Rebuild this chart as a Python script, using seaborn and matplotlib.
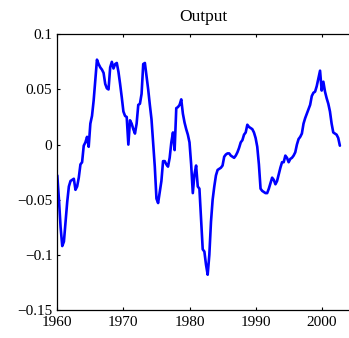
import numpy as np
import pandas as pd
import matplotlib
matplotlib.use("Agg")
import matplotlib.pyplot as plt
import seaborn as sns

# Quarterly output gap, 1960Q1 - 2002Q4
start_year = 1960
output_gap = [
    -0.028, -0.050, -0.075, -0.092,   # 1960
    -0.088, -0.070, -0.052, -0.038,   # 1961
    -0.033, -0.032, -0.031, -0.041,   # 1962
    -0.038, -0.030, -0.018, -0.016,   # 1963
    -0.001, 0.002, 0.007, -0.002,     # 1964
    0.019, 0.026, 0.040, 0.058,       # 1965
    0.077, 0.073, 0.070, 0.068,       # 1966
    0.065, 0.055, 0.051, 0.050,       # 1967
    0.070, 0.075, 0.069, 0.073,       # 1968
    0.074, 0.066, 0.055, 0.043,       # 1969
    0.030, 0.026, 0.025, 0.000,       # 1970
    0.022, 0.019, 0.014, 0.010,       # 1971
    0.019, 0.036, 0.037, 0.046,       # 1972
    0.073, 0.074, 0.062, 0.050,       # 1973
    0.036, 0.023, 0.002, -0.020,      # 1974
    -0.049, -0.053, -0.043, -0.033,   # 1975
    -0.015, -0.015, -0.018, -0.020,   # 1976
    -0.012, 0.002, 0.011, -0.005,     # 1977
    0.033, 0.034, 0.036, 0.041,       # 1978
    0.028, 0.020, 0.014, 0.009,       # 1979
    0.002, -0.018, -0.044, -0.027,    # 1980
    -0.019, -0.038, -0.040, -0.068,   # 1981
    -0.095, -0.097, -0.109, -0.118,   # 1982
    -0.100, -0.070, -0.050, -0.038,   # 1983
    -0.028, -0.023, -0.022, -0.021,   # 1984
    -0.019, -0.011, -0.009, -0.008,   # 1985
    -0.008, -0.010, -0.011, -0.012,   # 1986
    -0.010, -0.007, -0.003, 0.002,    # 1987
    0.004, 0.009, 0.011, 0.018,       # 1988
    0.016, 0.015, 0.014, 0.011,       # 1989
    0.006, -0.002, -0.018, -0.040,    # 1990
    -0.042, -0.043, -0.044, -0.044,   # 1991
    -0.040, -0.035, -0.030, -0.032,   # 1992
    -0.036, -0.033, -0.027, -0.021,   # 1993
    -0.016, -0.016, -0.010, -0.012,   # 1994
    -0.016, -0.013, -0.012, -0.010,   # 1995
    -0.007, 0.000, 0.005, 0.007,      # 1996
    0.010, 0.019, 0.024, 0.028,       # 1997
    0.032, 0.036, 0.044, 0.047,       # 1998
    0.048, 0.053, 0.060, 0.067,       # 1999
    0.049, 0.057, 0.048, 0.042,       # 2000
    0.037, 0.030, 0.019, 0.011,       # 2001
    0.010, 0.009, 0.006, -0.001,      # 2002
]

y_ticks = [-0.15, -0.1, -0.05, 0, 0.05, 0.1]
y_tick_labels = ["\u22120.15", "\u22120.1", "\u22120.05", "0", "0.05", "0.1"]
x_ticks = [1960, 1970, 1980, 1990, 2000]
x_tick_labels = ["1960", "1970", "1980", "1990", "2000"]

dates = start_year + np.arange(len(output_gap)) / 4.0
df = pd.DataFrame({"date": dates, "gap": output_gap})

sns.set_theme(style="ticks")
plt.rcParams["font.family"] = ["Liberation Serif", "DejaVu Serif"]
plt.rcParams["axes.unicode_minus"] = True

fig = plt.figure(figsize=(3.49, 3.38), dpi=100)
ax = fig.add_axes([57.3 / 349, 1 - 310 / 338, 1 - 57.3 / 349, (310 - 34.3) / 338])

sns.lineplot(data=df, x="date", y="gap", ax=ax, color="#0000ff",
             linewidth=1.9, estimator=None, sort=False)

ax.set_xlim(1960, 1960 + (349 - 57.3) / 6.61)
ax.set_ylim(-0.15, 0.1)
ax.set_xticks(x_ticks)
ax.set_xticklabels(x_tick_labels)
ax.set_yticks(y_ticks)
ax.set_yticklabels(y_tick_labels)
ax.set_xlabel("")
ax.set_ylabel("")
ax.set_title("Output", fontsize=12.5, pad=9.5, color="black")

ax.tick_params(axis="both", direction="in", length=2.5, width=0.8,
               labelsize=11, colors="black", top=True, right=False)
ax.tick_params(axis="y", pad=3.5)
ax.tick_params(axis="x", pad=4.5)

for side in ["left", "bottom", "top"]:
    ax.spines[side].set_color("black")
    ax.spines[side].set_linewidth(0.9)
ax.spines["right"].set_visible(False)

fig.savefig("out.png", dpi=100, facecolor="white")
